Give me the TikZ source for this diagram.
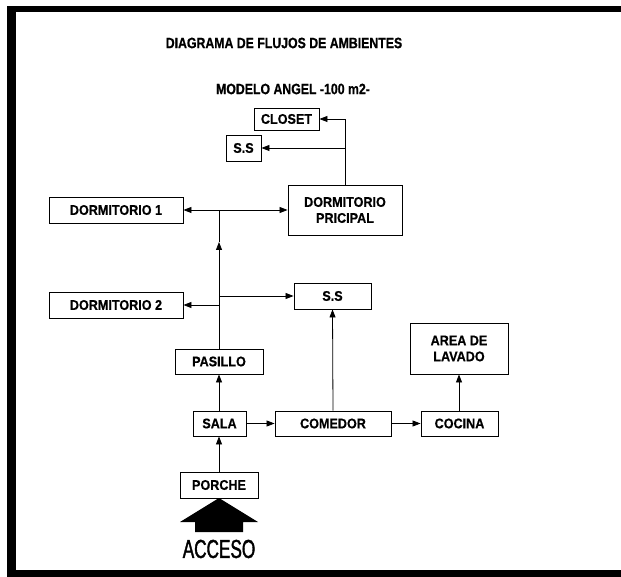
\documentclass[tikz,border=0pt]{standalone}
\usepackage{fontspec}
\setmainfont{Liberation Sans}
\newfontfamily\boxf[FakeStretch=0.9,FakeBold=0.6]{Liberation Sans}
\newfontfamily\titf[FakeStretch=0.82,FakeBold=0.6]{Liberation Sans}
\newfontfamily\accf[FakeStretch=0.66,FakeBold=1.5]{Liberation Sans}
\usetikzlibrary{arrows.meta}
\begin{document}
\begin{tikzpicture}[x=1pt,y=-1pt,
  room/.style={draw=black,line width=0.9pt,inner sep=0pt,align=center,
    font=\boxf\bfseries\fontsize{14}{15}\selectfont},
  conn/.style={line width=0.8pt,-{Triangle[length=8pt,width=6pt]}},
  plain/.style={line width=0.8pt},
  bar/.style={fill=black,draw=none}]
\useasboundingbox (0,0) rectangle (621,577);
% frame
\fill[bar] (7,6) rectangle (621,12);
\fill[bar] (7,6) rectangle (16,577);
\fill[bar] (7,570) rectangle (621,577);
% titles
\node (title) at (284,43) {\titf\bfseries\fontsize{15}{16}\selectfont DIAGRAMA DE FLUJOS DE AMBIENTES};
\node (model) at (293,89) {\titf\bfseries\fontsize{15}{16}\selectfont MODELO ANGEL -100 m2-};
% rooms
\node[room,minimum width=65pt,minimum height=22pt] (closet) at (286.5,119) {CLOSET};
\node[room,minimum width=35pt,minimum height=26pt] (ssa) at (243.5,148) {S.S};
\node[room,minimum width=114pt,minimum height=50pt] (dp) at (345,210) {DORMITORIO\\[1pt]PRICIPAL};
\node[room,minimum width=134pt,minimum height=26pt] (d1) at (116,210) {DORMITORIO 1};
\node[room,minimum width=134pt,minimum height=26pt] (d2) at (116,305) {DORMITORIO 2};
\node[room,minimum width=77pt,minimum height=26pt] (ssb) at (332.5,296) {S.S};
\node[room,minimum width=98pt,minimum height=51pt] (lav) at (459,348.5) {AREA DE\\[1pt]LAVADO};
\node[room,minimum width=88pt,minimum height=25pt] (pas) at (219,361.5) {PASILLO};
\node[room,minimum width=53pt,minimum height=25pt] (sala) at (219.5,423.5) {SALA};
\node[room,minimum width=116pt,minimum height=25pt] (com) at (333,423.5) {COMEDOR};
\node[room,minimum width=77pt,minimum height=25pt] (coc) at (459.5,423.5) {COCINA};
\node[room,minimum width=78pt,minimum height=26pt] (por) at (219,485) {PORCHE};
% dormitorio principal branch
\coordinate (ct) at (345,119);
\coordinate (cs) at (345,148);
\draw[plain] (dp.north) -- (ct);
\draw[conn] (ct) -- (closet.east);
\draw[conn] (cs) -- (ssa.east);
% hallway spine
\coordinate (j1) at (219,210);
\coordinate (mid) at (219,242);
\coordinate (j2) at (219,296);
\coordinate (j3) at (219,305);
\draw[conn] (pas.north) -- (mid);
\draw[plain] (mid) -- (j1);
\draw[conn] (j1) -- (d1.east);
\draw[conn] (j1) -- (dp.west);
\draw[conn] (j2) -- (ssb.west);
\draw[conn] (j3) -- (d2.east);
% lower flows
\draw[conn] (com.north) -- (ssb.south);
\draw[conn] (sala.north -| pas.south) -- (pas.south);
\draw[conn] (por.north) -- (por.north |- sala.south);
\draw[conn] (sala.east) -- (com.west);
\draw[conn] (com.east) -- (coc.west);
\draw[conn] (coc.north) -- (coc.north -| lav.south) -- (lav.south);
% access arrow
\fill (180,522) -- (219,498) -- (258,522) -- (243,522) -- (243,532) -- (195,532) -- (195,522) -- cycle;
\node (acc) at (219,549) {\accf\fontsize{26}{27}\selectfont ACCESO};
\end{tikzpicture}
\end{document}
